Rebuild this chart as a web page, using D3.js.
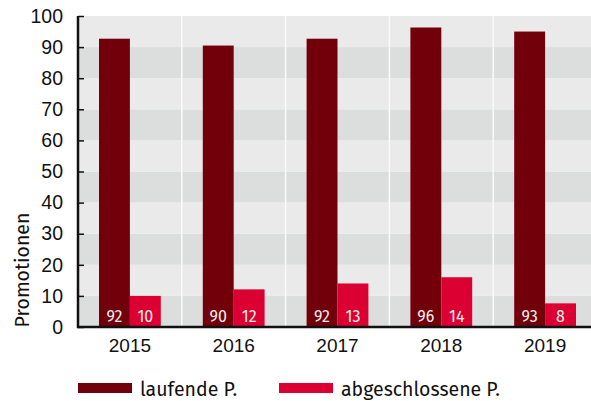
<!DOCTYPE html>
<html>
<head>
<meta charset="utf-8">
<script src="https://cdn.jsdelivr.net/npm/d3@7"></script>
<style>
  body { margin: 0; background: #fff; }
  svg { display: block; font-family: "Fira Sans", "Open Sans", sans-serif; }
</style>
</head>
<body>
<svg id="chart"></svg>
<script>
// Data
const years = ["2015", "2016", "2017", "2018", "2019"];
const series = ["laufende P.", "abgeschlossene P."];
// bar heights as drawn
const laufende = [92.7, 90.5, 92.7, 96.3, 95];
const abgeschlossene = [10, 12.1, 14, 16, 7.6];
// printed labels
const laufendeLabels = ["92", "90", "92", "96", "93"];
const abgeschlosseneLabels = ["10", "12", "13", "14", "8"];
const yTicks = [0, 10, 20, 30, 40, 50, 60, 70, 80, 90, 100];

const colors = ["#72000b", "#dc0032"];

const width = 591;
const height = 401;
const margin = { top: 16, right: -6, bottom: 74, left: 78 };

const svg = d3.select("#chart").attr("width", width).attr("height", height);

const x = d3
  .scaleBand()
  .domain(years)
  .range([margin.left, width - margin.right])
  .padding(0);

const xInner = d3
  .scaleBand()
  .domain(series)
  .range([21, x.bandwidth() - 21]);

const y = d3
  .scaleLinear()
  .domain([0, 100])
  .range([height - margin.bottom, margin.top]);

// Background bands
const bands = d3.range(0, 100, 10);
svg
  .append("g")
  .selectAll("rect")
  .data(bands)
  .join("rect")
  .attr("x", margin.left)
  .attr("width", width - margin.left)
  .attr("y", (d) => y(d + 10))
  .attr("height", (d) => y(d) - y(d + 10))
  .attr("fill", (d) => ((d / 10) % 2 === 0 ? "#dcdedd" : "#eaeaea"));

// White separators between years
svg
  .append("g")
  .selectAll("line")
  .data(years.slice(1))
  .join("line")
  .attr("x1", (d) => x(d))
  .attr("x2", (d) => x(d))
  .attr("y1", y(100))
  .attr("y2", y(0))
  .attr("stroke", "#fafafa")
  .attr("stroke-width", 1.5);

// Bars
const rows = years.map((yr, i) => ({
  year: yr,
  values: [
    { key: series[0], value: laufende[i], label: laufendeLabels[i] },
    { key: series[1], value: abgeschlossene[i], label: abgeschlosseneLabels[i] },
  ],
}));

const groups = svg
  .append("g")
  .selectAll("g")
  .data(rows)
  .join("g")
  .attr("transform", (d) => `translate(${x(d.year)},0)`);

groups
  .selectAll("rect")
  .data((d) => d.values)
  .join("rect")
  .attr("x", (d) => xInner(d.key))
  .attr("width", xInner.bandwidth())
  .attr("y", (d) => y(d.value))
  .attr("height", (d) => y(0) - y(d.value))
  .attr("fill", (d, i) => colors[i]);

groups
  .selectAll("text")
  .data((d) => d.values)
  .join("text")
  .attr("x", (d) => xInner(d.key) + xInner.bandwidth() / 2)
  .attr("y", y(0) - 5.5)
  .attr("text-anchor", "middle")
  .attr("fill", "#f4eeee")
  .attr("font-size", 16)
  .text((d) => d.label);

// Y axis
const yAxis = d3
  .axisLeft(y)
  .tickValues(yTicks)
  .tickSize(-6)
  .tickPadding(15);

const gy = svg
  .append("g")
  .attr("transform", `translate(${margin.left},0)`)
  .call(yAxis);
gy.select(".domain").remove();
gy.selectAll(".tick line").attr("stroke", "#111").attr("stroke-width", 1.5);
gy.selectAll(".tick text")
  .attr("font-size", 19.5)
  .attr("fill", "#111")
  .attr("font-family", "inherit");
gy.append("line")
  .attr("x1", 0)
  .attr("x2", 0)
  .attr("y1", y(100))
  .attr("y2", y(0) + 1)
  .attr("stroke", "#111")
  .attr("stroke-width", 2.5);

// X axis
const xAxis = d3.axisBottom(x).tickSize(0).tickPadding(12);
const gx = svg
  .append("g")
  .attr("transform", `translate(0,${y(0)})`)
  .call(xAxis);
gx.select(".domain").remove();
gx.selectAll(".tick text")
  .attr("font-size", 19)
  .attr("fill", "#111")
  .attr("font-family", "inherit");
gx.append("line")
  .attr("x1", margin.left - 1)
  .attr("x2", width)
  .attr("y1", 0)
  .attr("y2", 0)
  .attr("stroke", "#111")
  .attr("stroke-width", 2.5);

// Y axis title
svg
  .append("text")
  .attr("transform", `translate(29,270) rotate(-90)`)
  .attr("text-anchor", "middle")
  .attr("font-size", 19.5)
  .attr("fill", "#111")
  .text("Promotionen");

// Legend
const legendX = [78, 279];
const legend = svg
  .append("g")
  .selectAll("g")
  .data(series)
  .join("g")
  .attr("transform", (d, i) => `translate(${legendX[i]},383)`);

legend
  .append("rect")
  .attr("width", 54)
  .attr("height", 10)
  .attr("fill", (d, i) => colors[i]);

legend
  .append("text")
  .attr("x", 62)
  .attr("y", 13)
  .attr("font-size", 19.5)
  .attr("fill", "#111")
  .text((d) => d);
</script>
</body>
</html>
